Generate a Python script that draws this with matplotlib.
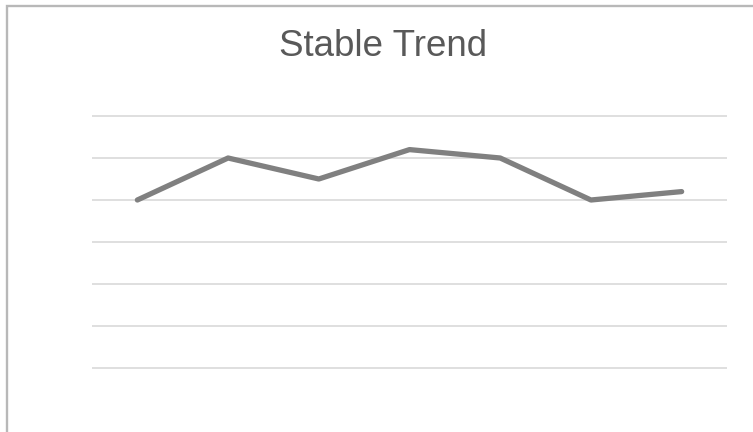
import matplotlib
matplotlib.use("Agg")
import matplotlib.pyplot as plt
from matplotlib.patches import Rectangle

categories = ["1", "2", "3", "4", "5", "6", "7"]
values = [4.0, 5.0, 4.5, 5.2, 5.0, 4.0, 4.2]
yticks = [0, 1, 2, 3, 4, 5, 6]
title = "Stable Trend"

W, H = 753, 432
fig = plt.figure(figsize=(W / 100, H / 100), dpi=100)

# chart frame (left and top visible)
fig.patches.append(Rectangle((7 / W, -0.1), 1.2, (H - 6) / H + 0.1,
                             transform=fig.transFigure, fill=False,
                             edgecolor="#b8b8b8", linewidth=1.7))

pad = 0.2
px_per_unit = 42
left, right = 92, 727
top = 116 - pad * px_per_unit
bottom = 368 + pad * px_per_unit
ax = fig.add_axes([left / W, (H - bottom) / H, (right - left) / W, (bottom - top) / H])
ax.set_facecolor("none")

x = list(range(len(categories)))
ax.plot(x, values, color="#808080", linewidth=3.8, solid_capstyle="round",
        solid_joinstyle="round", zorder=3)
ax.set_xlim(-0.5, len(categories) - 0.5)
ax.set_ylim(yticks[0] - pad, yticks[-1] + pad)
ax.set_yticks(yticks)
ax.yaxis.grid(True, color="#d9d9d9", linewidth=1.2)
ax.set_axisbelow(True)
ax.tick_params(left=False, bottom=False, labelleft=False, labelbottom=False)
for s in ax.spines.values():
    s.set_visible(False)

fig.text(383.5 / W, (H - 47) / H, title, ha="center", va="center",
         fontsize=26.5, color="#595959", family=["Liberation Sans", "DejaVu Sans"])

fig.savefig("out.png", dpi=100)
